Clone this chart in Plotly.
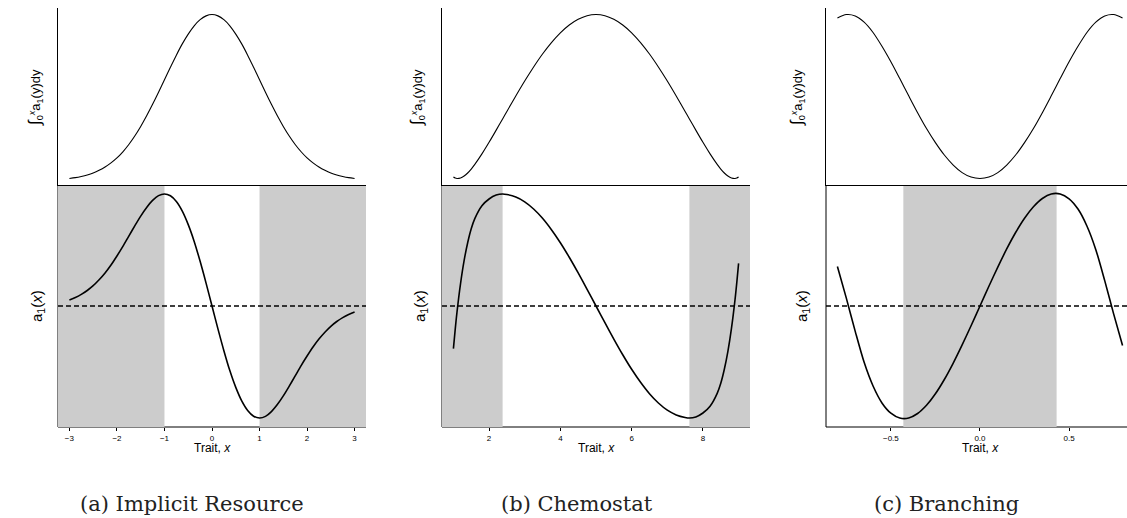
import plotly.graph_objects as go

# ---------------- data ----------------
# (a) Implicit Resource
x_a = [-3.0, -2.875, -2.75, -2.625, -2.5, -2.375, -2.25, -2.125, -2.0, -1.875, -1.75, -1.625, -1.5,
       -1.375, -1.25, -1.125, -1.0, -0.875, -0.75, -0.625, -0.5, -0.375, -0.25, -0.125, 0.0,
       0.125, 0.25, 0.375, 0.5, 0.625, 0.75, 0.875, 1.0, 1.125, 1.25, 1.375, 1.5, 1.625, 1.75,
       1.875, 2.0, 2.125, 2.25, 2.375, 2.5, 2.625, 2.75, 2.875, 3.0]
a1_a = [0.033, 0.046, 0.063, 0.084, 0.110, 0.142, 0.179, 0.222, 0.271, 0.323, 0.379, 0.434, 0.487,
        0.534, 0.572, 0.598, 0.607, 0.597, 0.566, 0.514, 0.441, 0.350, 0.242, 0.124, 0.0,
        -0.124, -0.242, -0.350, -0.441, -0.514, -0.566, -0.597, -0.607, -0.598, -0.572, -0.534,
        -0.487, -0.434, -0.379, -0.323, -0.271, -0.222, -0.179, -0.142, -0.110, -0.084, -0.063,
        -0.046, -0.033]
int_a = [-0.989, -0.984, -0.977, -0.968, -0.956, -0.940, -0.920, -0.895, -0.865, -0.828, -0.784,
         -0.733, -0.675, -0.611, -0.542, -0.469, -0.393, -0.318, -0.245, -0.177, -0.118, -0.068,
         -0.031, -0.008, 0.0, -0.008, -0.031, -0.068, -0.118, -0.177, -0.245, -0.318, -0.393,
         -0.469, -0.542, -0.611, -0.675, -0.733, -0.784, -0.828, -0.865, -0.895, -0.920, -0.940,
         -0.956, -0.968, -0.977, -0.984, -0.989]
shade_a = [(-3.24, -1.0), (1.0, 3.24)]
ticks_a = [-3, -2, -1, 0, 1, 2, 3]
labels_a = ["\u22123", "\u22122", "\u22121", "0", "1", "2", "3"]

# (b) Chemostat
x_b = [1.0, 1.05, 1.1, 1.2, 1.3, 1.4, 1.5, 1.6, 1.8, 2.0, 2.2, 2.38, 2.5, 2.75, 3.0, 3.25, 3.5, 3.75,
       4.0, 4.25, 4.5, 4.75, 5.0, 5.25, 5.5, 5.75, 6.0, 6.25, 6.5, 6.75, 7.0, 7.25, 7.5, 7.62, 7.8,
       8.0, 8.2, 8.4, 8.5, 8.6, 8.7, 8.8, 8.9, 8.95, 9.0]
a1_b = [-0.381, -0.211, -0.057, 0.200, 0.405, 0.565, 0.690, 0.780, 0.895, 0.955, 0.990, 1.0, 0.995,
        0.972, 0.930, 0.866, 0.783, 0.681, 0.565, 0.435, 0.295, 0.149, 0.0, -0.149, -0.295, -0.435,
        -0.565, -0.681, -0.783, -0.866, -0.930, -0.972, -0.995, -1.0, -0.990, -0.955, -0.895, -0.780,
        -0.690, -0.565, -0.405, -0.200, 0.057, 0.211, 0.381]
int_b = [0.022, 0.007, 0.000, 0.008, 0.039, 0.087, 0.150, 0.224, 0.392, 0.577, 0.772, 0.951, 1.071,
         1.318, 1.557, 1.782, 1.989, 2.172, 2.328, 2.453, 2.544, 2.601, 2.619, 2.601, 2.544, 2.453,
         2.328, 2.172, 1.989, 1.782, 1.557, 1.318, 1.071, 0.951, 0.772, 0.577, 0.392, 0.224, 0.150,
         0.087, 0.039, 0.008, 0.000, 0.007, 0.022]
shade_b = [(0.68, 2.38), (7.62, 9.32)]
ticks_b = [2, 4, 6, 8]
labels_b = ["2", "4", "6", "8"]

# (c) Branching
x_c = [-0.8, -0.75, -0.7, -0.65, -0.6, -0.55, -0.5, -0.45, -0.4, -0.35, -0.3, -0.25, -0.2, -0.15,
       -0.1, -0.05, 0.0, 0.05, 0.1, 0.15, 0.2, 0.25, 0.3, 0.35, 0.4, 0.45, 0.5, 0.55, 0.6, 0.65,
       0.7, 0.75, 0.8]
a1_c = [0.351, 0.070, -0.225, -0.500, -0.710, -0.860, -0.951, -0.994, -0.994, -0.954, -0.881, -0.779,
        -0.652, -0.506, -0.345, -0.175, 0.0, 0.175, 0.345, 0.506, 0.652, 0.779, 0.881, 0.954, 0.994,
        0.994, 0.951, 0.860, 0.710, 0.500, 0.225, -0.070, -0.351]
int_c = [0.466, 0.476, 0.472, 0.454, 0.424, 0.384, 0.339, 0.290, 0.240, 0.191, 0.145, 0.104, 0.068,
         0.039, 0.017, 0.004, 0.0, 0.004, 0.017, 0.039, 0.068, 0.104, 0.145, 0.191, 0.240, 0.290,
         0.339, 0.384, 0.424, 0.454, 0.472, 0.476, 0.466]
shade_c = [(-0.43, 0.43)]
ticks_c = [-0.5, 0.0, 0.5]
labels_c = ["\u22120.5", "0.0", "0.5"]

captions = ["(a) Implicit Resource", "(b) Chemostat", "(c) Branching"]

# ---------------- layout geometry ----------------
W, H = 1127, 518
def px(v):
    return v / W
def py(v):
    return 1 - v / H

panels = [
    dict(x=x_a, a1=a1_a, integ=int_a, shade=shade_a, ticks=ticks_a, labels=labels_a,
         dom=[px(58), px(366)], xr=[-3.24, 3.24], cx=212, ylx=37, tlx=35, capx=192),
    dict(x=x_b, a1=a1_b, integ=int_b, shade=shade_b, ticks=ticks_b, labels=labels_b,
         dom=[px(442), px(750)], xr=[0.68, 9.32], cx=596, ylx=420, tlx=417, capx=577),
    dict(x=x_c, a1=a1_c, integ=int_c, shade=shade_c, ticks=ticks_c, labels=labels_c,
         dom=[px(826), 1.0], xr=[-0.864, 0.825], cx=980, ylx=802, tlx=797, capx=946),
]

bot_dom = [py(427), py(185)]
top_dom = [py(185), py(8)]

fig = go.Figure()
shapes = []
annotations = []
sans = "Liberation Sans, Arial, Helvetica, sans-serif"

def padded(vals):
    lo, hi = min(vals), max(vals)
    r = hi - lo
    return [lo - 0.04 * r, hi + 0.04 * r]

layout = dict(width=W, height=H, autosize=False, margin=dict(l=0, r=0, t=0, b=0),
              template="none", plot_bgcolor="rgba(0,0,0,0)", paper_bgcolor="white",
              showlegend=False)

for i, p in enumerate(panels):
    bi = i + 1          # bottom subplot index
    ti = i + 4          # top subplot index
    bx = "x" if bi == 1 else f"x{bi}"
    by = "y" if bi == 1 else f"y{bi}"
    tx, ty = f"x{ti}", f"y{ti}"

    amax = max(abs(v) for v in p["a1"])
    yr_b = [-amax * 1.08, amax * 1.08]

    layout["xaxis" if bi == 1 else f"xaxis{bi}"] = dict(
        domain=p["dom"], anchor=by, range=p["xr"], showgrid=False, zeroline=False,
        showline=False, tickmode="array", tickvals=p["ticks"], ticktext=p["labels"],
        ticks="outside", ticklen=3, tickwidth=1, tickcolor="black",
        tickfont=dict(family=sans, size=8, color="black"))
    layout["yaxis" if bi == 1 else f"yaxis{bi}"] = dict(
        domain=bot_dom, anchor=bx, range=yr_b, showgrid=False, zeroline=False,
        showline=False, showticklabels=False, ticks="")
    layout[f"xaxis{ti}"] = dict(
        domain=p["dom"], anchor=ty, range=p["xr"], showgrid=False, zeroline=False,
        showline=True, linecolor="black", linewidth=1, showticklabels=False, ticks="")
    layout[f"yaxis{ti}"] = dict(
        domain=top_dom, anchor=tx, range=padded(p["integ"]), showgrid=False, zeroline=False,
        showline=True, linecolor="black", linewidth=1, showticklabels=False, ticks="")

    # axis lines of the lower panel (covered by the grey bands)
    shapes.append(dict(type="line", xref=f"{bx} domain", yref=f"{by} domain", x0=0, x1=0, y0=0, y1=1,
                       line=dict(color="black", width=1), layer="below"))
    shapes.append(dict(type="line", xref=f"{bx} domain", yref=f"{by} domain", x0=0, x1=1, y0=0, y1=0,
                       line=dict(color="black", width=1), layer="below"))
    for (s0, s1) in p["shade"]:
        shapes.append(dict(type="rect", xref=bx, yref=f"{by} domain", x0=s0, x1=s1, y0=0, y1=1,
                           fillcolor="#CCCCCC", line=dict(width=0), layer="below"))
    shapes.append(dict(type="line", xref=f"{bx} domain", yref=by, x0=0, x1=1, y0=0, y1=0,
                       line=dict(color="black", width=1.3, dash="5px,3px"), layer="below"))

    fig.add_trace(go.Scatter(x=p["x"], y=p["a1"], mode="lines", xaxis=bx, yaxis=by,
                             line=dict(color="black", width=1.6, shape="spline", smoothing=0.8),
                             hoverinfo="skip"))
    fig.add_trace(go.Scatter(x=p["x"], y=p["integ"], mode="lines", xaxis=tx, yaxis=ty,
                             line=dict(color="black", width=1.1, shape="spline", smoothing=0.8),
                             hoverinfo="skip"))

    annotations.append(dict(text="Trait, <i>x</i>", x=px(p["cx"]), y=py(448), xref="paper", yref="paper",
                            showarrow=False, xanchor="center", yanchor="middle",
                            font=dict(family=sans, size=12, color="black")))
    annotations.append(dict(text="a<sub>1</sub>(<i>x</i>)", x=px(p["ylx"]), y=py(306), xref="paper",
                            yref="paper", showarrow=False, textangle=-90, xanchor="center",
                            yanchor="middle", font=dict(family=sans, size=15, color="black")))
    annotations.append(dict(text="<span style='font-size:17px'>\u222B</span><sub>0</sub><sup><i>x</i></sup>"
                                 "a<sub>1</sub>(y)dy", x=px(p["tlx"]),
                            y=py(98), xref="paper", yref="paper", showarrow=False, textangle=-90,
                            xanchor="center", yanchor="middle",
                            font=dict(family=sans, size=13, color="black")))
    annotations.append(dict(text=captions[i], x=px(p["capx"]), y=py(504), xref="paper", yref="paper",
                            showarrow=False, xanchor="center", yanchor="middle",
                            font=dict(family="DejaVu Serif, Liberation Serif, serif", size=21,
                                      color="#222222")))

layout["shapes"] = shapes
layout["annotations"] = annotations
fig.update_layout(**layout)

fig.write_html("out.html", config={"displayModeBar": False},
               post_script="document.body.style.margin='0px';")
